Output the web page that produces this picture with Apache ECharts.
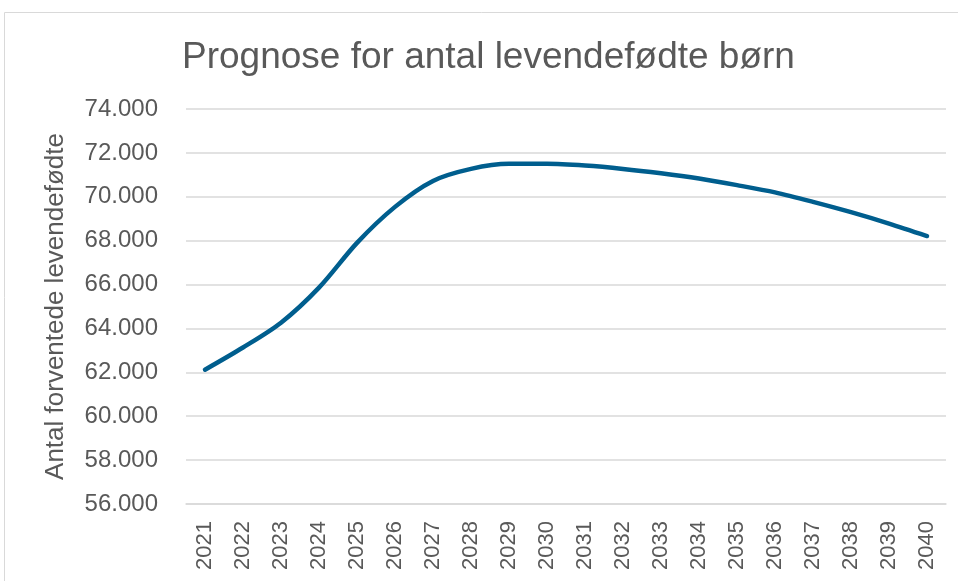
<!DOCTYPE html>
<html>
<head>
<meta charset="utf-8">
<script src="https://cdn.jsdelivr.net/npm/echarts@6/dist/echarts.min.js"></script>
<style>html,body{margin:0;padding:0;background:#fff}#c{width:958px;height:581px}</style>
</head>
<body>
<div id="c"></div>
<script>
const years = ['2021','2022','2023','2024','2025','2026','2027','2028','2029','2030','2031','2032','2033','2034','2035','2036','2037','2038','2039','2040'];
const births = [62120, 63130, 64260, 65860, 67900, 69540, 70720, 71270, 71500, 71500, 71420, 71270, 71070, 70830, 70530, 70200, 69770, 69300, 68780, 68210];
const yMin = 56000, yMax = 74000, yStep = 2000;
const titleText = 'Prognose for antal levendefødte børn';
const yName = 'Antal forventede levendefødte';

const chart = echarts.init(document.getElementById('c'));
chart.setOption({
  animation: false,
  graphic: [{type:'rect', shape:{x:4.5,y:12.5,width:960,height:580}, style:{fill:'none', stroke:'#d9d9d9', lineWidth:1}, silent:true}],
  title: {text: titleText, left: 177, top: 34, textStyle:{fontFamily:'Liberation Sans, Arial', fontSize:37, fontWeight:'normal', color:'#595959'}},
  grid: {left:186, right:12, top:109, bottom:77},
  xAxis: {type:'category', data: years, boundaryGap:true,
    axisLine:{lineStyle:{color:'#d9d9d9', width:1.5}}, axisTick:{show:false},
    axisLabel:{rotate:90, color:'#595959', fontFamily:'Liberation Sans, Arial', fontSize:22, margin:17, interval:0}},
  yAxis: {type:'value', min:yMin, max:yMax, interval:yStep,
    name: yName, nameLocation:'middle', nameGap:117, nameRotate:90,
    nameTextStyle:{color:'#595959', fontFamily:'Liberation Sans, Arial', fontSize:26},
    axisLine:{show:false}, axisTick:{show:false},
    splitLine:{lineStyle:{color:'#d9d9d9', width:1.5}},
    axisLabel:{color:'#595959', fontFamily:'Liberation Sans, Arial', fontSize:24, margin:28,
      formatter: v => v.toLocaleString('de-DE')}},
  series: [{type:'line', data: births, smooth:0.3, symbol:'none',
    lineStyle:{color:'#005e8e', width:4.5, cap:'round', join:'round'}}]
});
</script>
</body>
</html>
